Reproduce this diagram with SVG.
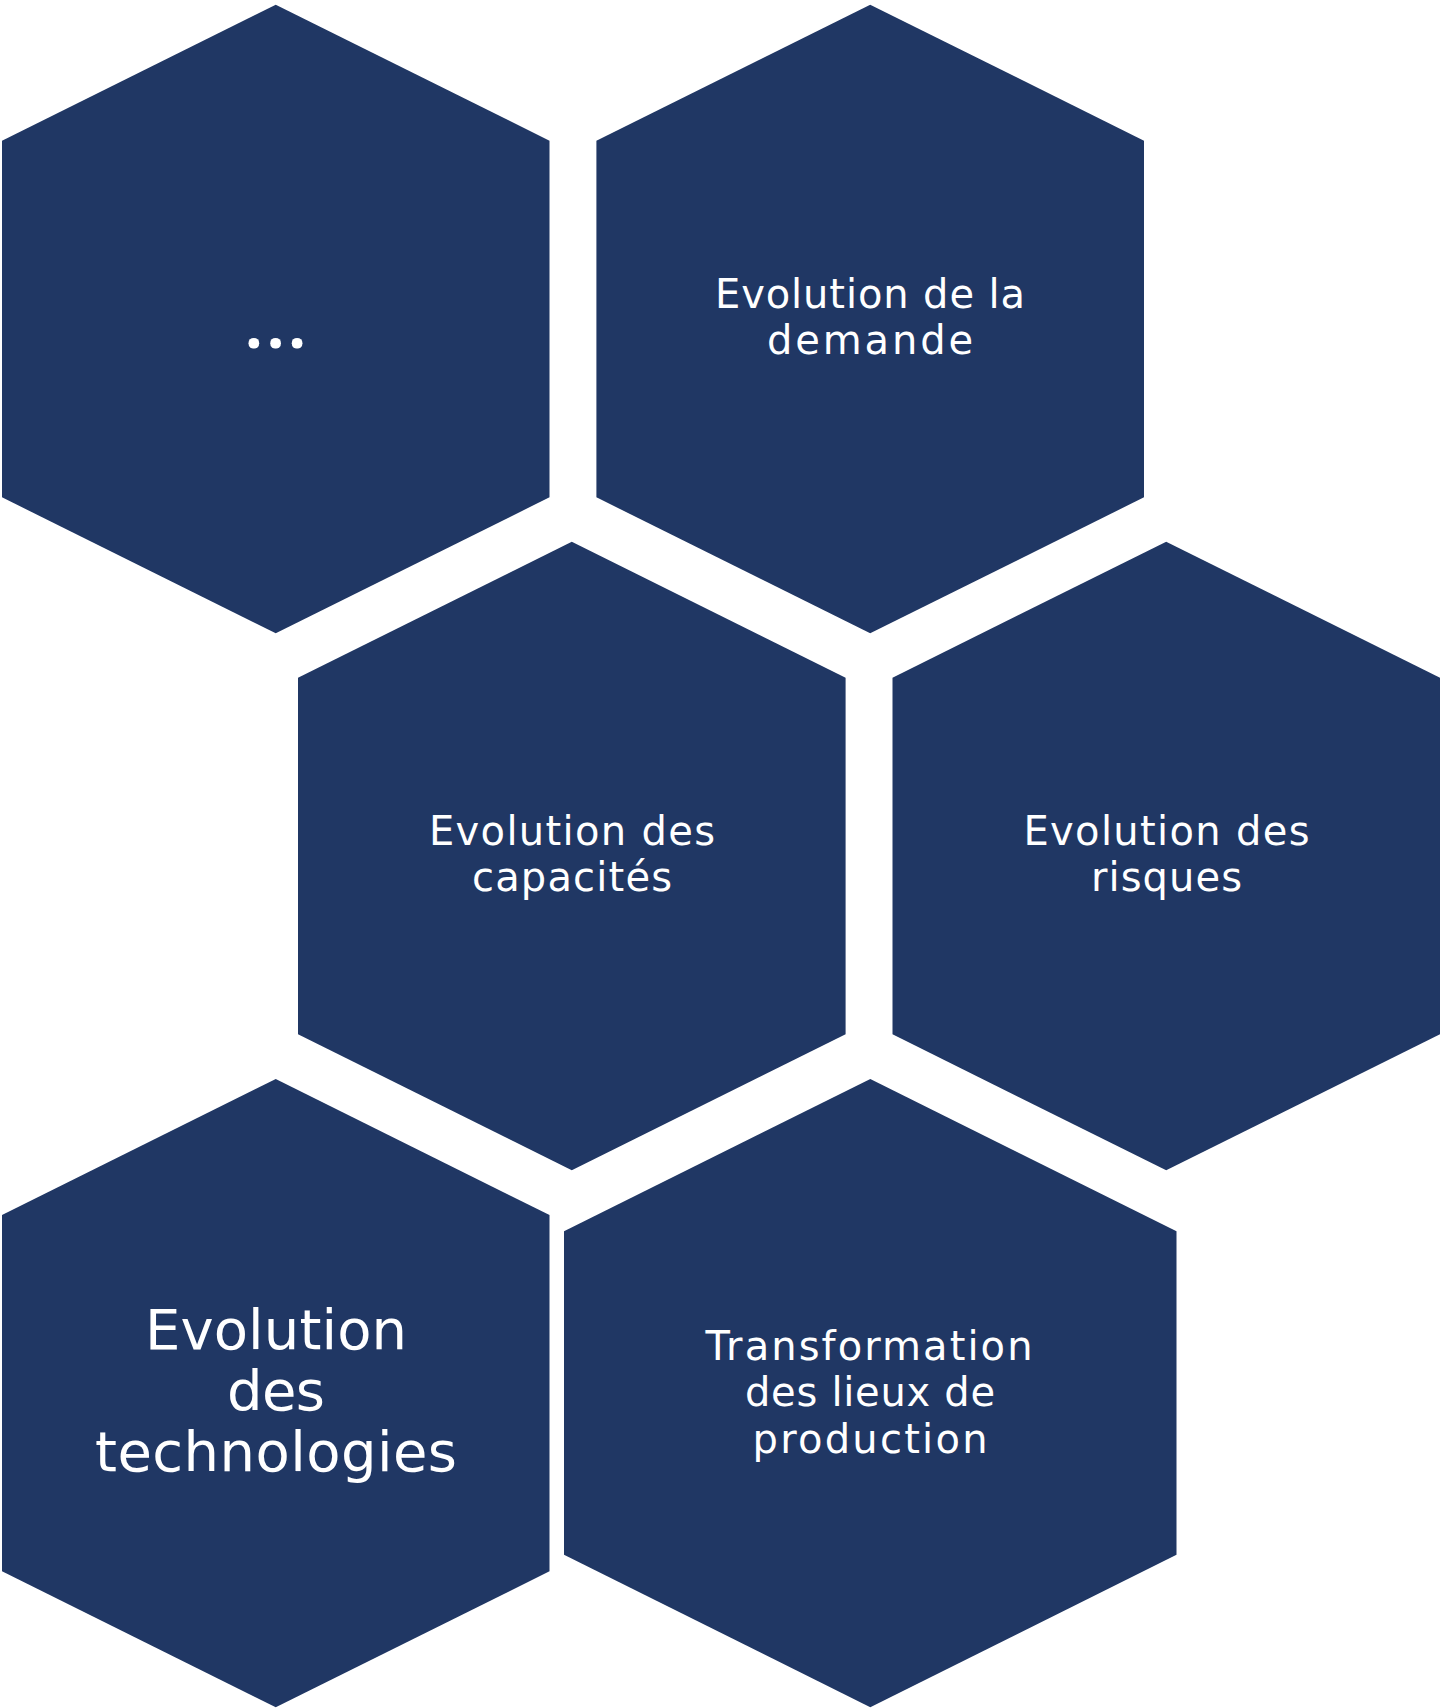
<svg xmlns="http://www.w3.org/2000/svg" width="1445" height="1708" viewBox="0 0 1445 1708">
<style>
.hex{fill:#203764;}
.t{fill:#ffffff;font-family:"DejaVu Sans","Liberation Sans",sans-serif;font-size:40px;text-anchor:middle;}
.big{font-size:56px;}
.dots{fill:#ffffff;font-family:"Open Sans","DejaVu Sans",sans-serif;font-weight:700;font-size:62px;}
</style>
<rect width="1445" height="1708" fill="#ffffff"/>
<g id="connectors"></g>
<g id="node-etc">
<polygon class="hex" points="275.75,4.7 549.5,140.7 549.5,497.3 275.75,633.3 2,497.3 2,140.7"/>
<text class="dots" x="245" y="348" letter-spacing="4">...</text>
</g>
<g id="node-demande">
<polygon class="hex" points="870.2,4.7 1144,140.7 1144,497.3 870.2,633.3 596.4,497.3 596.4,140.7"/>
<text class="t" x="870" y="308.3" textLength="310" lengthAdjust="spacing">Evolution de la</text>
<text class="t" x="870" y="354.3" textLength="206" lengthAdjust="spacing">demande</text>
</g>
<g id="node-capacites">
<polygon class="hex" points="571.8,541.7 845.6,677.7 845.6,1034.3 571.8,1170.3 298,1034.3 298,677.7"/>
<text class="t" x="572" y="845.3" textLength="286" lengthAdjust="spacing">Evolution des</text>
<text class="t" x="572" y="891.3" textLength="200" lengthAdjust="spacing">capacités</text>
</g>
<g id="node-risques">
<polygon class="hex" points="1166.2,541.7 1440,677.7 1440,1034.3 1166.2,1170.3 892.5,1034.3 892.5,677.7"/>
<text class="t" x="1166.5" y="845.3" textLength="286" lengthAdjust="spacing">Evolution des</text>
<text class="t" x="1166.5" y="891.3" textLength="151" lengthAdjust="spacing">risques</text>
</g>
<g id="node-technologies">
<polygon class="hex" points="275.75,1079 549.5,1215 549.5,1571.3 275.75,1707.3 2,1571.3 2,1215"/>
<text class="t big" x="276" y="1349" textLength="262" lengthAdjust="spacing">Evolution</text>
<text class="t big" x="276" y="1410" textLength="98" lengthAdjust="spacing">des</text>
<text class="t big" x="276" y="1471" textLength="362" lengthAdjust="spacing">technologies</text>
</g>
<g id="node-transformation">
<polygon class="hex" points="870.3,1079 1176.5,1231.3 1176.5,1554.7 870.3,1707.3 564,1554.7 564,1231.3"/>
<text class="t" x="869" y="1360" textLength="327" lengthAdjust="spacing">Transformation</text>
<text class="t" x="870" y="1406" textLength="250" lengthAdjust="spacing">des lieux de</text>
<text class="t" x="870" y="1452.6" textLength="235" lengthAdjust="spacing">production</text>
</g>
</svg>
